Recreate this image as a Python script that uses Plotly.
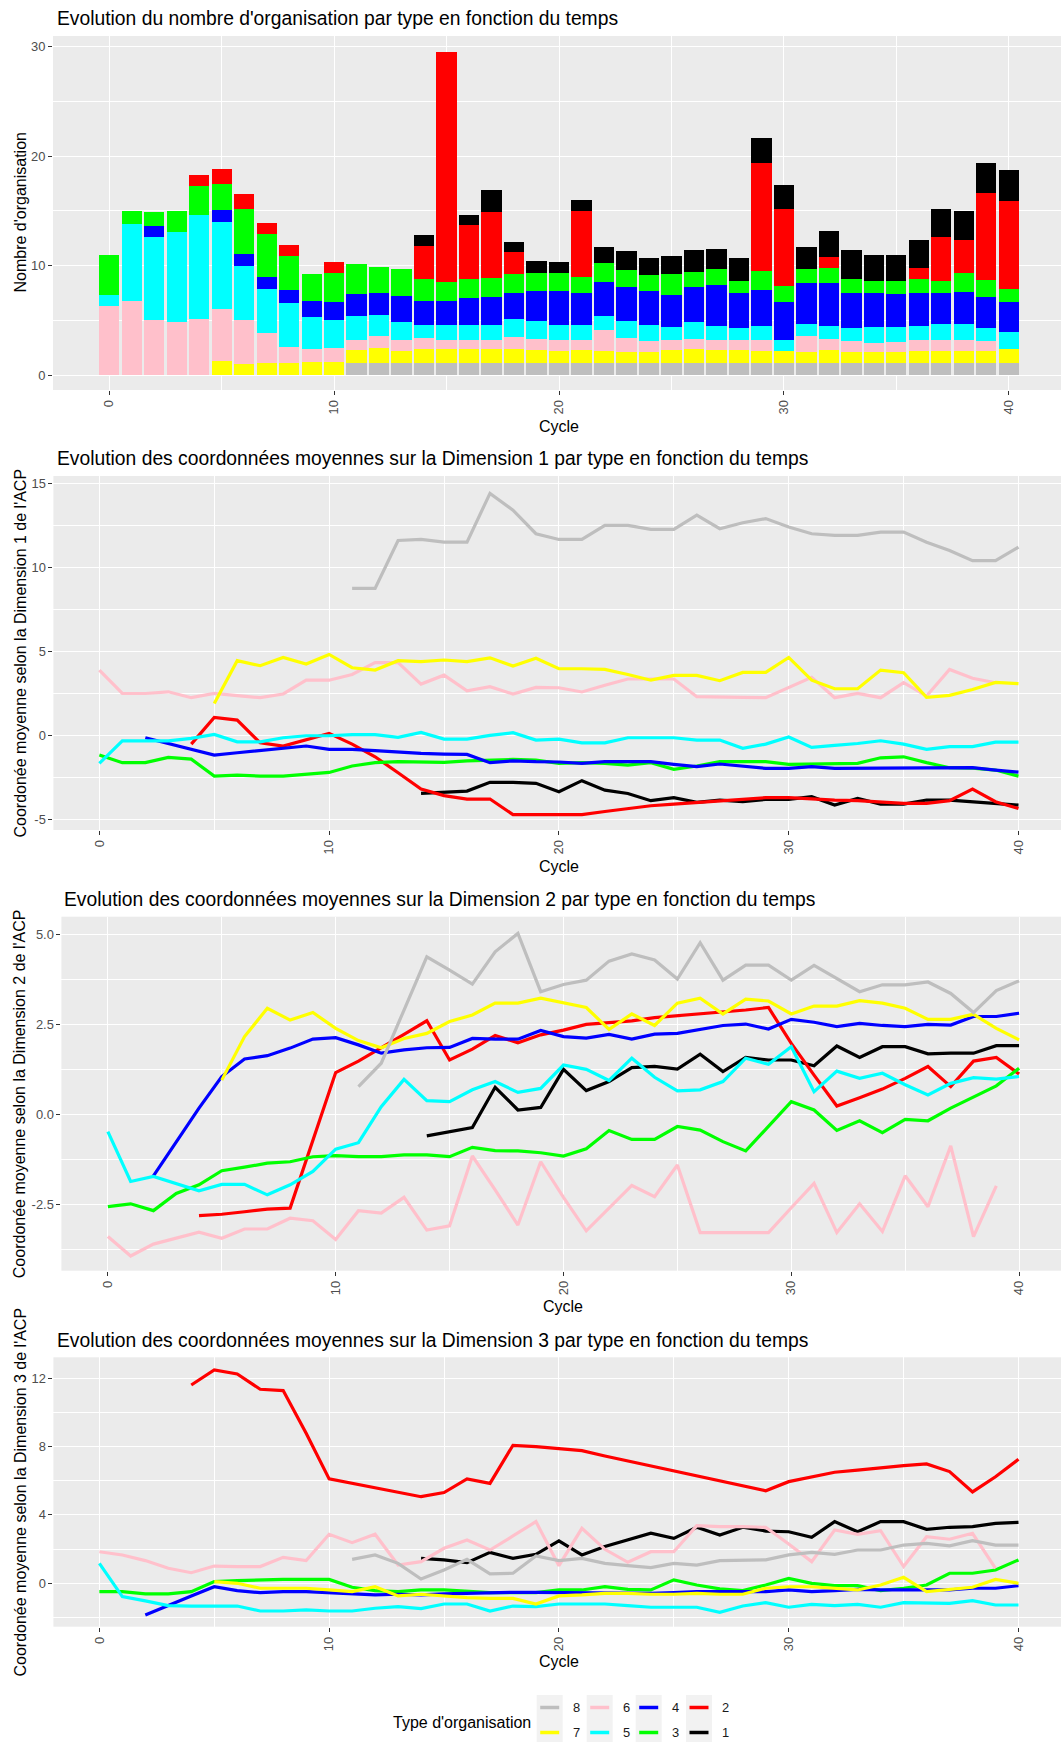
import plotly.graph_objects as go

# ---------------------------------------------------------------- data
cycles = list(range(41))
type_colors = {
    "1": "#000000", "2": "#FF0000", "3": "#00FF00", "4": "#0000FF",
    "5": "#00FFFF", "6": "#FFC0CB", "7": "#FFFF00", "8": "#BEBEBE",
}

x_ticks = [0, 10, 20, 30, 40]
x_tick_labels = ["0", "10", "20", "30", "40"]
x_minor = [5, 15, 25, 35]

# number of organisations per type and cycle (stacked bars)
n_8 = [0, 0, 0, 0, 0, 0, 0, 0, 0, 0, 0,
       1.1, 1.1, 1.1, 1.1, 1.1, 1.1, 1.1, 1.1, 1.1, 1.1, 1.1, 1.1, 1.1, 1.1, 1.1,
       1.1, 1.1, 1.1, 1.1, 1.1, 1.1, 1.1, 1.1, 1.1, 1.1, 1.1, 1.1, 1.1, 1.1, 1.1]
n_7 = [0, 0, 0, 0, 0, 1.3, 1.0, 1.1, 1.1, 1.2, 1.2, 1.2, 1.4, 1.1, 1.25, 1.25, 1.25,
       1.25, 1.3, 1.2, 1.1, 1.2, 1.1, 1.0, 1.0, 1.2, 1.3, 1.2, 1.2, 1.1, 1.1, 1.0,
       1.2, 1.0, 1.0, 1.0, 1.1, 1.1, 1.1, 1.1, 1.3]
n_6 = [6.3, 6.8, 5.0, 4.85, 5.1, 4.7, 4.0, 2.7, 1.5, 1.15, 1.3, 0.9, 1.1, 1.0, 1.05,
       0.85, 0.85, 0.85, 1.1, 1.0, 1.0, 0.9, 1.9, 1.3, 1.0, 0.9, 0.9, 0.9, 0.9, 1.0,
       0, 1.5, 1.0, 1.0, 0.8, 0.9, 1.0, 1.0, 1.0, 0.9, 0]
n_5 = [1.0, 7.0, 7.6, 8.25, 9.5, 8.0, 5.0, 4.1, 4.0, 2.95, 2.5, 2.2, 1.9, 1.6, 1.2,
       1.4, 1.4, 1.4, 1.6, 1.6, 1.4, 1.4, 1.3, 1.5, 1.5, 1.2, 1.5, 1.3, 1.1, 1.3,
       1.0, 1.1, 1.2, 1.2, 1.5, 1.4, 1.3, 1.5, 1.5, 1.2, 1.5]
n_4 = [0, 0, 1.0, 0, 0, 1.1, 1.1, 1.1, 1.2, 1.5, 1.7, 2.0, 2.0, 2.4, 2.2, 2.2, 2.4,
       2.5, 2.4, 2.8, 3.1, 2.9, 3.1, 3.1, 3.1, 2.9, 3.2, 3.7, 3.2, 3.3, 3.5, 3.7,
       3.9, 3.2, 3.1, 3.0, 3.0, 2.8, 2.9, 2.8, 2.8]
n_3 = [3.7, 1.2, 1.3, 1.9, 2.7, 2.4, 4.1, 3.9, 3.1, 2.4, 2.6, 2.7, 2.4, 2.5, 2.0,
       1.7, 1.8, 1.8, 1.7, 1.6, 1.6, 1.5, 1.7, 1.6, 1.4, 1.9, 1.4, 1.5, 1.1, 1.7,
       1.4, 1.3, 1.4, 1.3, 1.1, 1.2, 1.3, 1.1, 1.7, 1.6, 1.2]
n_2 = [0, 0, 0, 0, 1.0, 1.3, 1.3, 1.0, 1.0, 0, 1.0, 0, 0, 0, 3.0, 21.0, 4.9, 6.0,
       2.0, 0, 0, 6.0, 0, 0, 0, 0, 0, 0, 0, 9.9, 7.1, 0, 1.0, 0, 0, 0, 1.0, 4.0,
       3.0, 7.9, 8.0]
n_1 = [0, 0, 0, 0, 0, 0, 0, 0, 0, 0, 0, 0, 0, 0, 1.0, 0, 0.9, 2.0, 1.0, 1.1, 1.0,
       1.0, 1.5, 1.7, 1.6, 1.7, 2.0, 1.8, 2.1, 2.3, 2.2, 2.0, 2.4, 2.6, 2.4, 2.4,
       2.5, 2.6, 2.7, 2.8, 2.8]

N = None

# mean coordinate on PCA dimension 1
dim1_8 = [N] * 11 + [8.75, 8.75, 11.6, 11.66, 11.5, 11.5, 14.4, 13.4, 12.0, 11.66,
                     11.66, 12.5, 12.5, 12.26, 12.26, 13.1, 12.3, 12.65, 12.9, 12.4,
                     12.0, 11.9, 11.9, 12.1, 12.1, 11.5, 11.0, 10.4, 10.4, 11.2]
dim1_7 = [N] * 5 + [1.92, 4.46, 4.16, 4.65, 4.26, 4.83, 4.04, 3.9, 4.46, 4.4, 4.5,
                    4.4, 4.63, 4.14, 4.6, 3.98, 3.98, 3.94, 3.64, 3.3, 3.58, 3.58,
                    3.27, 3.76, 3.76, 4.65, 3.3, 2.79, 2.79, 3.9, 3.74, 2.28, 2.4,
                    2.75, 3.17, 3.09]
dim1_6 = [3.9, 2.51, 2.51, 2.61, 2.26, 2.51, 2.38, 2.26, 2.48, 3.3, 3.3, 3.64, 4.34,
          4.34, 3.07, 3.6, 2.67, 2.91, 2.48, 2.87, 2.85, 2.6, 3.0, 3.37, 3.37, 3.37,
          2.32, 2.32, 2.28, 2.26, 2.85, 3.47, 2.26, 2.51, 2.26, 3.15, 2.36, 3.94,
          3.41, 3.15, N]
dim1_5 = [-1.64, -0.3, -0.3, -0.3, -0.16, 0.08, -0.36, -0.36, -0.12, 0.0, 0.0, 0.06,
          0.06, -0.1, 0.2, -0.2, -0.2, 0.02, 0.18, -0.26, -0.2, -0.42, -0.42, -0.12,
          -0.12, -0.12, -0.26, -0.26, -0.75, -0.5, -0.08, -0.69, -0.57, -0.46, -0.3,
          -0.5, -0.81, -0.65, -0.65, -0.38, -0.38]
dim1_4 = [N, N, -0.12, -0.46, -0.81, -1.15, -1.01, -0.89, -0.75, -0.61, -0.81, -0.81,
          -0.89, -0.99, -1.05, -1.09, -1.11, -1.6, -1.49, -1.54, -1.56, -1.64, -1.54,
          -1.54, -1.54, -1.7, -1.84, -1.68, -1.8, -1.94, -1.94, -1.84, -1.94, -1.94,
          -1.94, -1.94, -1.92, -1.9, -1.9, -2.04, -2.16]
dim1_3 = [-1.15, -1.6, -1.6, -1.29, -1.39, -2.4, -2.34, -2.4, -2.4, -2.28, -2.18, -1.8,
          -1.6, -1.54, -1.56, -1.58, -1.49, -1.45, -1.41, -1.45, -1.64, -1.6, -1.64,
          -1.74, -1.6, -2.0, -1.8, -1.54, -1.54, -1.54, -1.7, -1.68, -1.64, -1.64,
          -1.31, -1.25, -1.6, -1.9, -1.92, -2.04, -2.4]
dim1_2 = [N] * 4 + [-0.5, 1.09, 0.93, -0.42, -0.61, -0.22, 0.14, -0.5, -1.25, -2.2,
                    -3.17, -3.56, -3.76, -3.76, -4.69, -4.69, -4.69, -4.69, -4.5, -4.32,
                    -4.16, -4.06, -3.96, -3.86, -3.76, -3.68, -3.68, -3.76, -3.82,
                    -3.86, -3.96, -4.02, -4.02, -3.86, -3.17, -3.92, -4.32]
dim1_1 = [N] * 14 + [-3.43, -3.37, -3.29, -2.77, -2.77, -2.83, -3.33, -2.67, -3.23,
                     -3.43, -3.86, -3.68, -3.96, -3.82, -3.92, -3.78, -3.78, -3.62,
                     -4.12, -3.72, -4.06, -4.06, -3.82, -3.82, -3.92, -3.98, -4.12]

# mean coordinate on PCA dimension 2
dim2_8 = [N] * 11 + [0.77, 1.42, 2.9, 4.38, 4.01, 3.62, 4.52, 5.03, 3.41, 3.61, 3.73,
                     4.26, 4.46, 4.29, 3.76, 4.77, 3.73, 4.15, 4.15, 3.73, 4.14, 3.78,
                     3.41, 3.6, 3.6, 3.68, 3.36, 2.83, 3.44, 3.71]
dim2_7 = [N] * 5 + [0.95, 2.16, 2.95, 2.62, 2.83, 2.39, 2.05, 1.85, 2.11, 2.25, 2.58,
                    2.76, 3.09, 3.09, 3.23, 3.09, 2.97, 2.36, 2.79, 2.47, 3.09, 3.23,
                    2.79, 3.2, 3.15, 2.79, 3.01, 3.01, 3.16, 3.09, 2.95, 2.64, 2.64,
                    2.78, 2.39, 2.07]
dim2_6 = [-3.4, -3.94, -3.61, -3.45, -3.28, -3.45, -3.19, -3.19, -2.89, -2.96, -3.48,
          -2.68, -2.75, -2.31, -3.22, -3.1, -1.16, -2.1, -3.08, -1.32, -2.31, -3.24,
          -2.61, -1.98, -2.29, -1.41, -3.29, -3.29, -3.29, -3.29, -2.6, -1.92, -3.29,
          -2.49, -3.26, -1.71, -2.57, -0.88, -3.4, -1.99, N]
dim2_5 = [-0.48, -1.87, -1.73, -1.94, -2.13, -1.95, -1.95, -2.24, -1.96, -1.59, -0.97,
          -0.79, 0.21, 0.97, 0.38, 0.35, 0.68, 0.91, 0.61, 0.72, 1.37, 1.25, 0.94,
          1.56, 1.03, 0.65, 0.68, 0.91, 1.56, 1.39, 1.88, 0.63, 1.2, 1.0, 1.14, 0.82,
          0.54, 0.86, 1.02, 0.98, 1.05]
dim2_4 = [N, N, -1.71, -0.76, 0.17, 1.05, 1.54, 1.63, 1.84, 2.09, 2.13, 1.93, 1.7,
          1.79, 1.85, 1.86, 2.11, 2.09, 2.09, 2.33, 2.16, 2.12, 2.22, 2.09, 2.23, 2.25,
          2.37, 2.47, 2.51, 2.37, 2.64, 2.56, 2.44, 2.53, 2.47, 2.44, 2.5, 2.48, 2.72,
          2.72, 2.81]
dim2_3 = [-2.57, -2.49, -2.68, -2.2, -1.96, -1.57, -1.47, -1.36, -1.32, -1.18, -1.15,
          -1.18, -1.18, -1.13, -1.13, -1.18, -0.92, -1.01, -1.02, -1.07, -1.16, -0.96,
          -0.45, -0.7, -0.7, -0.34, -0.44, -0.76, -1.02, -0.34, 0.35, 0.12, -0.45,
          -0.18, -0.51, -0.14, -0.18, 0.17, 0.49, 0.79, 1.28]
dim2_2 = [N] * 4 + [-2.82, -2.78, -2.71, -2.64, -2.61, -0.71, 1.16, 1.48, 1.84, 2.22,
                    2.6, 1.51, 1.81, 2.19, 1.99, 2.21, 2.34, 2.5, 2.55, 2.6, 2.69, 2.74,
                    2.79, 2.83, 2.9, 2.97, 1.97, 1.09, 0.23, 0.46, 0.7, 1.0, 1.33, 0.77,
                    1.48, 1.58, 1.12]
dim2_1 = [N] * 14 + [-0.6, -0.48, -0.37, 0.75, 0.12, 0.19, 1.25, 0.66, 0.91, 1.3,
                     1.33, 1.26, 1.67, 1.19, 1.58, 1.51, 1.51, 1.35, 1.9, 1.58, 1.88,
                     1.88, 1.68, 1.7, 1.7, 1.91, 1.91]

# mean coordinate on PCA dimension 3
dim3_8 = [N] * 11 + [1.4, 1.66, 1.17, 0.25, 0.78, 1.4, 0.55, 0.59, 1.6, 1.33, 1.46,
                     1.17, 1.03, 0.92, 1.17, 1.07, 1.33, 1.37, 1.37, 1.66, 1.81, 1.7,
                     1.95, 1.95, 2.24, 2.34, 2.19, 2.5, 2.24, 2.24]
dim3_7 = [N] * 5 + [0.1, 0.0, -0.29, -0.29, -0.29, -0.39, -0.49, -0.2, -0.74, -0.64,
                    -0.74, -0.84, -0.88, -0.88, -1.21, -0.74, -0.68, -0.59, -0.59,
                    -0.64, -0.64, -0.59, -0.64, -0.64, -0.29, -0.2, -0.2, -0.29, -0.39,
                    -0.1, 0.35, -0.49, -0.35, -0.23, 0.23, 0.0]
dim3_6 = [1.85, 1.66, 1.33, 0.88, 0.62, 1.01, 0.98, 0.98, 1.52, 1.33, 2.87, 2.38,
          2.87, 1.07, 1.27, 2.05, 2.54, 1.95, 2.77, 3.61, 1.03, 3.22, 1.99, 1.23, 1.85,
          1.85, 3.38, 3.32, 3.32, 3.28, 2.3, 1.27, 3.12, 2.87, 3.08, 0.98, 2.73, 2.58,
          2.93, 0.88, N]
dim3_5 = [1.17, -0.78, -1.03, -1.31, -1.33, -1.33, -1.33, -1.62, -1.62, -1.56, -1.62,
          -1.62, -1.46, -1.37, -1.48, -1.21, -1.21, -1.62, -1.33, -1.37, -1.21, -1.21,
          -1.21, -1.31, -1.4, -1.4, -1.4, -1.7, -1.33, -1.13, -1.4, -1.23, -1.31,
          -1.23, -1.4, -1.13, -1.17, -1.17, -1.01, -1.27, -1.27]
dim3_4 = [N, N, -1.85, -1.27, -0.74, -0.2, -0.43, -0.55, -0.49, -0.49, -0.55, -0.59,
          -0.68, -0.64, -0.68, -0.62, -0.59, -0.53, -0.53, -0.53, -0.55, -0.55, -0.55,
          -0.59, -0.59, -0.55, -0.49, -0.49, -0.49, -0.49, -0.39, -0.49, -0.43, -0.35,
          -0.39, -0.39, -0.39, -0.39, -0.29, -0.29, -0.14]
dim3_3 = [-0.49, -0.49, -0.62, -0.62, -0.49, 0.1, 0.16, 0.2, 0.23, 0.23, 0.23, -0.23,
          -0.43, -0.49, -0.39, -0.39, -0.49, -0.55, -0.55, -0.55, -0.39, -0.39, -0.2,
          -0.35, -0.39, 0.2, -0.1, -0.33, -0.43, -0.1, 0.29, 0.0, -0.14, -0.14, -0.43,
          -0.29, -0.1, 0.59, 0.59, 0.78, 1.37]
dim3_2 = [N] * 4 + [11.61, 12.49, 12.25, 11.36, 11.28, 8.78, 6.11, 5.85, 5.6, 5.33,
                    5.07, 5.31, 6.11, 5.85, 8.08, 8.0, 7.88, 7.77, 7.45, 7.16, 6.87,
                    6.6, 6.3, 6.01, 5.72, 5.42, 5.95, 6.24, 6.5, 6.63, 6.77, 6.89, 6.99,
                    6.54, 5.35, 6.24, 7.26]
dim3_1 = [N] * 14 + [1.46, 1.37, 1.21, 1.81, 1.46, 1.7, 2.48, 1.66, 2.15, 2.54, 2.93,
                     2.63, 3.28, 2.83, 3.28, 3.06, 3.02, 2.69, 3.61, 3.02, 3.61, 3.61,
                     3.16, 3.28, 3.32, 3.51, 3.57]

bar_counts = {"8": n_8, "7": n_7, "6": n_6, "5": n_5,
              "4": n_4, "3": n_3, "2": n_2, "1": n_1}
dim1 = {"1": dim1_1, "2": dim1_2, "3": dim1_3, "4": dim1_4,
        "5": dim1_5, "6": dim1_6, "7": dim1_7, "8": dim1_8}
dim2 = {"1": dim2_1, "2": dim2_2, "3": dim2_3, "4": dim2_4,
        "5": dim2_5, "6": dim2_6, "7": dim2_7, "8": dim2_8}
dim3 = {"1": dim3_1, "2": dim3_2, "3": dim3_3, "4": dim3_4,
        "5": dim3_5, "6": dim3_6, "7": dim3_7, "8": dim3_8}

titles = [
    "Evolution du nombre d'organisation par type en fonction du temps",
    "Evolution des coordonnées moyennes sur la Dimension 1 par type en fonction du temps",
    "Evolution des coordonnées moyennes sur la Dimension 2 par type en fonction du temps",
    "Evolution des coordonnées moyennes sur la Dimension 3 par type en fonction du temps",
]
y_titles = [
    "Nombre d'organisation",
    "Coordonée moyenne selon la Dimension 1 de l'ACP",
    "Coordonée moyenne selon la Dimension 2 de l'ACP",
    "Coordonée moyenne selon la Dimension 3 de l'ACP",
]
legend_title = "Type d'organisation"
legend_grid = [["8", "7"], ["6", "5"], ["4", "3"], ["2", "1"]]

# ---------------------------------------------------------------- layout helpers
W, H = 1061, 1742
FONT = "Liberation Sans, Arial, sans-serif"
PANEL_BG = "#EBEBEB"


def fx(px):
    return px / W


def fy(py):
    return 1 - py / H


fig = go.Figure()

# stacked bars: first trace sits at the bottom of the stack
for t in ["8", "7", "6", "5", "4", "3", "2", "1"]:
    fig.add_trace(go.Bar(
        x=cycles, y=bar_counts[t], width=0.9,
        marker=dict(color=type_colors[t], line=dict(width=0)),
        xaxis="x", yaxis="y", showlegend=False, hoverinfo="x+y",
    ))

for xa, ya, series in [("x2", "y2", dim1), ("x3", "y3", dim2), ("x4", "y4", dim3)]:
    for t in ["1", "2", "3", "4", "5", "6", "7", "8"]:
        fig.add_trace(go.Scatter(
            x=cycles, y=series[t], mode="lines",
            line=dict(color=type_colors[t], width=3.2),
            xaxis=xa, yaxis=ya, showlegend=False, connectgaps=False,
        ))


def x_cfg(left_px, rng, anchor):
    return dict(
        domain=[fx(left_px), 1.0], range=rng, anchor=anchor,
        tickmode="array", tickvals=x_ticks, ticktext=x_tick_labels, tickangle=-90,
        ticks="outside", ticklen=4, tickwidth=1, tickcolor="#333333",
        tickfont=dict(family=FONT, size=12.9, color="#4D4D4D"),
        showgrid=True, gridcolor="white", gridwidth=1.3,
        zeroline=False, showline=False,
        minor=dict(tickmode="array", tickvals=x_minor, showgrid=True,
                   gridcolor="white", gridwidth=0.6, ticks=""),
    )


def y_cfg(top_px, bottom_px, rng, anchor, vals, texts, minor_vals):
    return dict(
        domain=[fy(bottom_px), fy(top_px)], range=rng, anchor=anchor,
        tickmode="array", tickvals=vals, ticktext=texts,
        ticks="outside", ticklen=4, tickwidth=1, tickcolor="#333333",
        tickfont=dict(family=FONT, size=12.9, color="#4D4D4D"),
        showgrid=True, gridcolor="white", gridwidth=1.3,
        zeroline=False, showline=False,
        minor=dict(tickmode="array", tickvals=minor_vals, showgrid=True,
                   gridcolor="white", gridwidth=0.6, ticks=""),
    )


panel_boxes = [  # (left, top, right, bottom) in pixels
    (53.0, 36.0, 1061, 390.0),
    (53.4, 476.0, 1061, 830.0),
    (61.4, 916.7, 1061, 1270.7),
    (53.4, 1357.3, 1061, 1626.7),
]

fig.update_layout(
    width=W, height=H,
    margin=dict(l=0, r=0, t=0, b=0),
    paper_bgcolor="white", plot_bgcolor=PANEL_BG,
    barmode="stack", bargap=0.1,
    font=dict(family=FONT, color="black"),
    showlegend=False,
    xaxis=x_cfg(53.0, [-2.5, 42.32], "y"),
    yaxis=y_cfg(36.0, 390.0, [-1.37, 30.98], "x",
                [0, 10, 20, 30], ["0", "10", "20", "30"], [5, 15, 25]),
    xaxis2=x_cfg(53.4, [-2.0, 41.85], "y2"),
    yaxis2=y_cfg(476.0, 830.0, [-5.60, 15.43], "x2",
                 [-5, 0, 5, 10, 15], ["-5", "0", "5", "10", "15"],
                 [-2.5, 2.5, 7.5, 12.5]),
    xaxis3=x_cfg(61.4, [-2.04, 41.84], "y3"),
    yaxis3=y_cfg(916.7, 1270.7, [-4.35, 5.495], "x3",
                 [-2.5, 0, 2.5, 5.0], ["-2.5", "0.0", "2.5", "5.0"],
                 [-3.75, -1.25, 1.25, 3.75]),
    xaxis4=x_cfg(53.4, [-2.0, 41.85], "y4"),
    yaxis4=y_cfg(1357.3, 1626.7, [-2.54, 13.23], "x4",
                 [0, 4, 8, 12], ["0", "4", "8", "12"], [-2, 2, 6, 10]),
)

annotations = []
shapes = []

# panel titles
title_pos = [(54.5, 18.3), (54.5, 459.0), (62.0, 899.3), (54.5, 1340.0)]
for text, (px, py) in zip(titles, title_pos):
    annotations.append(dict(
        text=text, x=fx(px), y=fy(py), xref="paper", yref="paper",
        xanchor="left", yanchor="middle", showarrow=False,
        font=dict(family=FONT, size=19.3, color="black"),
    ))

# axis titles
for (left, top, right, bottom), ytxt, cx, cy in zip(
        panel_boxes, y_titles,
        [558.6, 558.6, 562.8, 558.6], [426.0, 866.0, 1306.7, 1661.7]):
    annotations.append(dict(
        text=ytxt, x=fx(19.5), y=fy((top + bottom) / 2), xref="paper", yref="paper",
        xanchor="center", yanchor="middle", textangle=-90, showarrow=False,
        font=dict(family=FONT, size=16, color="black"),
    ))
    annotations.append(dict(
        text="Cycle", x=fx(cx), y=fy(cy), xref="paper", yref="paper",
        xanchor="center", yanchor="middle", showarrow=False,
        font=dict(family=FONT, size=16, color="black"),
    ))

# legend
annotations.append(dict(
    text=legend_title, x=fx(390.7), y=fy(1722.7), xref="paper", yref="paper",
    xanchor="left", yanchor="middle", showarrow=False,
    font=dict(family=FONT, size=16, color="black"),
))
key_lefts = [536.7, 586.7, 635.7, 686.0]
row_centres = [1707.5, 1732.5]
for col, left in zip(legend_grid, key_lefts):
    shapes.append(dict(
        type="rect", xref="paper", yref="paper",
        x0=fx(left), x1=fx(left + 26), y0=fy(1745), y1=fy(1695),
        fillcolor="#F2F2F2", line=dict(width=0), layer="below",
    ))
    for t, cy in zip(col, row_centres):
        shapes.append(dict(
            type="line", xref="paper", yref="paper",
            x0=fx(left + 3.5), x1=fx(left + 22.5), y0=fy(cy), y1=fy(cy),
            line=dict(color=type_colors[t], width=3.5),
        ))
        annotations.append(dict(
            text=t, x=fx(left + 34), y=fy(cy), xref="paper", yref="paper",
            xanchor="left", yanchor="middle", showarrow=False,
            font=dict(family=FONT, size=12.9, color="#1A1A1A"),
        ))

fig.update_layout(annotations=annotations, shapes=shapes)

fig.write_html("out.html")
